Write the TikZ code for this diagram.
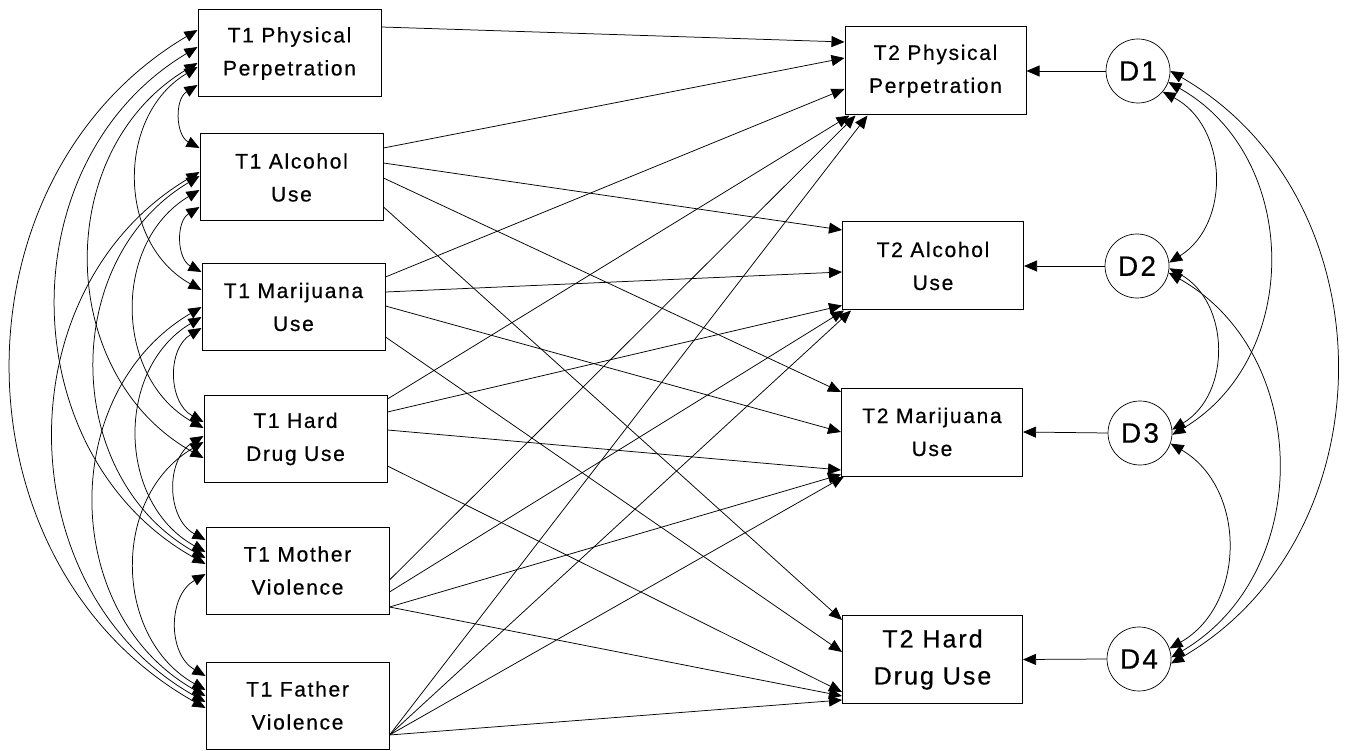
\documentclass[tikz,border=0pt]{standalone}
\usepackage{fontspec}
\setmainfont{Liberation Sans}[LetterSpace=8, FakeBold=0.5]
\usetikzlibrary{arrows.meta}

\tikzset{
  varbox/.style={draw, line width=1pt, minimum width=183pt, minimum height=87pt,
    inner sep=0pt, align=center, font=\fontsize{21}{33}\selectfont},
  bigbox/.style={varbox, font=\fontsize{25}{37}\selectfont},
  errcirc/.style={draw, circle, line width=0.7pt, minimum size=64pt, inner sep=0pt,
    font=\fontsize{28}{30}\selectfont},
  regarrow/.style={-{Triangle[length=13pt,width=11pt]}, line width=0.75pt},
  covleft/.style={{Triangle[length=13pt,width=11pt]}-{Triangle[length=13pt,width=11pt]},
    line width=0.75pt, bend right=60, looseness=1.1},
  covright/.style={covleft, bend left=60}
}

\begin{document}
\begin{tikzpicture}[x=1pt,y=-1pt]
    \useasboundingbox (0,0) rectangle (1360,751);

    % T1 measures
    \node[varbox] (t1phys) at (289.5,53.5) {T1 Physical\\Perpetration};
    \node[varbox] (t1alc)  at (291.5,177.5) {T1 Alcohol\\Use};
    \node[varbox] (t1mar)  at (293.5,307) {T1 Marijuana\\Use};
    \node[varbox] (t1hard) at (295.5,439) {T1 Hard\\Drug Use};
    \node[varbox] (t1moth) at (297.5,570.5) {T1 Mother\\Violence};
    \node[varbox] (t1fath) at (297.5,705.5) {T1 Father\\Violence};

    % T2 outcomes
    \node[varbox, minimum width=181pt, minimum height=88pt] (t2phys) at (935.5,71) {T2 Physical\\Perpetration};
    \node[varbox, minimum width=181pt, minimum height=88pt] (t2alc)  at (933,266) {T2 Alcohol\\Use};
    \node[varbox, minimum width=181pt, minimum height=88pt] (t2mar)  at (932,432) {T2 Marijuana\\Use};
    \node[bigbox, minimum width=180pt, minimum height=88pt] (t2hard) at (932.5,659.5) {T2 Hard\\Drug Use};

    % disturbances
    \node[errcirc] (d1) at (1138,71) {D1};
    \node[errcirc] (d2) at (1137,266) {D2};
    \node[errcirc] (d3) at (1140,433) {D3};
    \node[errcirc] (d4) at (1139,659) {D4};

    % disturbance paths
    \draw[regarrow] (d1.west) -- (t2phys.east);
    \draw[regarrow] (d2.west) -- (t2alc.east);
    \draw[regarrow] (d3.west) -- (t2mar.east);
    \draw[regarrow] (d4.west) -- (t2hard.east);

    % regression paths from T1 to T2
    \draw[regarrow] ([yshift=26.5pt]t1phys.east) -- ([yshift=29pt]t2phys.west);

    \draw[regarrow] ([yshift=29.5pt]t1alc.east) -- ([yshift=13pt]t2phys.west);
    \draw[regarrow] ([yshift=14.5pt]t1alc.east) -- ([yshift=36pt]t2alc.west);
    \draw[regarrow] ([yshift=-0.5pt]t1alc.east) -- ([yshift=40pt]t2mar.west);
    \draw[regarrow] ([yshift=-29.5pt]t1alc.east) -- ([yshift=39.5pt]t2hard.west);

    \draw[regarrow] ([yshift=30pt]t1mar.east) -- ([yshift=-18pt]t2phys.west);
    \draw[regarrow] ([yshift=15pt]t1mar.east) -- ([yshift=-6pt]t2alc.west);
    \draw[regarrow] ([yshift=1pt]t1mar.east) -- (t2mar.west);
    \draw[regarrow] ([yshift=-30pt]t1mar.east) -- ([yshift=7.5pt]t2hard.west);

    \draw[regarrow] ([yshift=40pt]t1hard.east) -- ([xshift=5pt]t2phys.south west);
    \draw[regarrow] ([yshift=27pt]t1hard.east) -- ([yshift=5pt]t2alc.south west);
    \draw[regarrow] ([yshift=9pt]t1hard.east) -- ([yshift=-38pt]t2mar.west);
    \draw[regarrow] ([yshift=-27pt]t1hard.east) -- ([yshift=-32.5pt]t2hard.west);

    \draw[regarrow] ([yshift=-9.5pt]t1moth.east) -- ([xshift=11pt]t2phys.south west);
    \draw[regarrow] ([yshift=-21.5pt]t1moth.east) -- ([xshift=2pt]t2alc.south west);
    \draw[regarrow] ([yshift=-36.5pt]t1moth.east) -- ([yshift=2pt]t2mar.south west);
    \draw[regarrow] ([yshift=-36.5pt]t1moth.east) -- ([yshift=-36.5pt]t2hard.west);

    \draw[regarrow] ([yshift=-29.5pt]t1fath.east) -- ([xshift=23pt]t2phys.south west);
    \draw[regarrow] ([yshift=-29.5pt]t1fath.east) -- ([xshift=9pt]t2alc.south west);
    \draw[regarrow] ([yshift=-29.5pt]t1fath.east) -- ([xshift=3pt]t2mar.south west);
    \draw[regarrow] ([yshift=-29.5pt]t1fath.east) -- ([yshift=-40.5pt]t2hard.west);

    % covariances among T1 measures
    \foreach \a/\ay/\b/\by in {
        t1phys/-31.5/t1alc/29.5, t1phys/-13.5/t1mar/17, t1phys/-9.5/t1hard/-19,
        t1phys/6.5/t1moth/6.5, t1phys/23.5/t1fath/-2.5,
        t1alc/-29.5/t1mar/35, t1alc/-12.5/t1hard/11, t1alc/1.5/t1moth/12.5,
        t1alc/5.5/t1fath/3.5,
        t1mar/-21/t1hard/17, t1mar/-10/t1moth/18.5, t1mar/0/t1fath/9.5,
        t1hard/3/t1moth/30.5, t1hard/-3/t1fath/15.5,
        t1moth/-3.5/t1fath/29.5}
      \draw[covleft] ([yshift=\ay pt]\a.west) to ([yshift=\by pt]\b.west);

    % covariances among disturbances
    \draw[covright] (d1.-40) to (d2.6);
    \draw[covright] (d1.-20) to (d3.-3);
    \draw[covright] (d1.0) to (d4.-8);
    \draw[covright] (d2.-4) to (d3.6);
    \draw[covright] (d2.-12) to (d4.3);
    \draw[covright] (d3.-19) to (d4.19);
\end{tikzpicture}
\end{document}
